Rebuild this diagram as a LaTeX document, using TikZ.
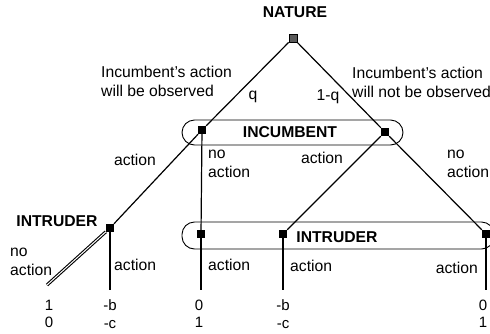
\documentclass[tikz,border=0pt]{standalone}
\usepackage{fontspec}
\setmainfont{Liberation Sans}
\usepackage{tikz}
\definecolor{natgray}{RGB}{90,90,90}

\begin{document}
\begin{tikzpicture}[x=1pt,y=-1pt,
  every node/.style={font=\fontsize{15.7}{19}\selectfont,inner sep=0pt},
  decnode/.style={fill=black,minimum size=8pt},
  chancenode/.style={fill=natgray,draw=black,line width=0.8pt,minimum size=8pt},
  infoset/.style={line width=0.9pt,rounded corners=12.5pt},
  edge/.style={line width=1.2pt},
  payoff/.style={align=center,font=\fontsize{15}{17.5}\selectfont}]
\useasboundingbox (0,0) rectangle (490,333);
\clip (0,0) rectangle (490,333);

% information sets
\draw[infoset] (182,120) rectangle (403,145);
\draw[infoset] (182,222) rectangle (494,249);

% nodes
\node[chancenode] (nature) at (293,38) {};
\node[decnode] (incL) at (202,130) {};
\node[decnode] (incR) at (385,132) {};
\node[decnode] (intA) at (110,228) {};
\node[decnode] (intB) at (201,234) {};
\node[decnode] (intC) at (283,234) {};
\node[decnode] (intD) at (486,234) {};
\coordinate (endA) at (47,285);
\coordinate (endB) at (110,290);
\coordinate (endC) at (201,290);
\coordinate (endD) at (283,290);
\coordinate (endE) at (486,290);

% edges
\draw[edge] (nature) -- (incL);
\draw[edge] (nature) -- (incR);
\draw[edge] (incL) -- (intA);
\draw[edge] (incL) -- (intB);
\draw[edge] (incR) -- (intC);
\draw[edge] (incR) -- (intD);
\draw[line width=1.1pt,double,double distance=1pt] (intA) -- (endA);
\draw[edge] (intA) -- (endB);
\draw[edge] (intB) -- (endC);
\draw[edge] (intC) -- (endD);
\draw[edge] (intD) -- (endE);

% labels
\node[font=\fontsize{15.7}{19}\selectfont\bfseries] (natlbl) at (295,12) {NATURE};
\node[font=\fontsize{15.7}{19}\selectfont\bfseries] (inclbl) at (290,132) {INCUMBENT};
\node[font=\fontsize{15.7}{19}\selectfont\bfseries] (intlbl) at (337,237) {INTRUDER};
\node[font=\fontsize{15.7}{19}\selectfont\bfseries] (intlblA) at (57,221) {INTRUDER};
\node[align=left,anchor=west] (obs) at (101,81) {Incumbent's action\\will be observed};
\node[align=left,anchor=west] (notobs) at (352,82) {Incumbent's action\\will not be observed};
\node (q) at (253,97) {q};
\node (oneq) at (328,97) {1-q};
\node (actL) at (135,160) {action};
\node[align=left,anchor=north west] (noactL) at (208,150) {no\\action};
\node (actR) at (322,158) {action};
\node[align=left,anchor=north west] (noactR) at (447,150) {no\\action};
\node[align=left,anchor=north west] (noactA) at (10,248) {no\\action};
\node[anchor=west] (actA) at (114,265) {action};
\node[anchor=west] (actB) at (208,265) {action};
\node[anchor=west] (actC) at (290,266) {action};
\node[anchor=east] (actD) at (478,268) {action};

% payoffs
\node[payoff] (payA) at (49,314) {1\\0};
\node[payoff] (payB) at (110,314) {-b\\-c};
\node[payoff] (payC) at (199,314) {0\\1};
\node[payoff] (payD) at (283,314) {-b\\-c};
\node[payoff] (payE) at (483,314) {0\\1};
\end{tikzpicture}
\end{document}
